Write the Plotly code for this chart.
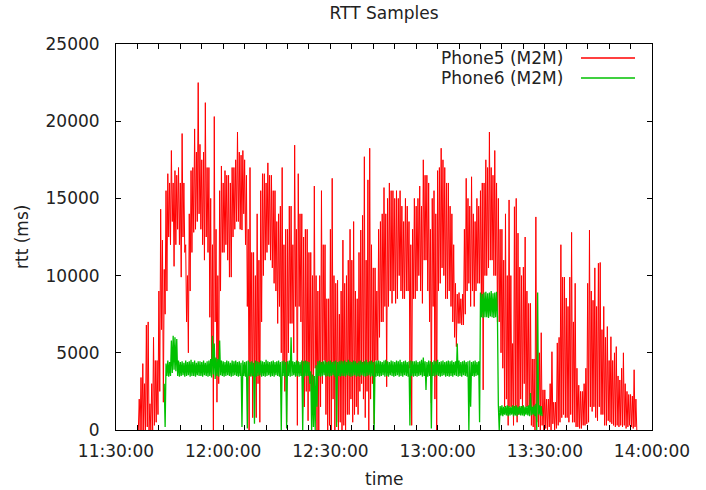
import pandas as pd
import plotly.graph_objects as go

# ---- data (ms) ----
# Phone5: one 30 s bin every step from 11:36:00; upper and lower edge of the trace in each bin
phone5_start = "2013-06-01 11:36:00"
phone5_hi = [
    0, 2000, 3400, 4300, 3000, 6800, 7000, 1700, 3000, 6000, 4500, 4500, 9000, 14300, 12300, 10400, 15500, 16600, 16000, 18100,
    16000, 16800, 16500, 17000, 16000, 19200, 16000, 12000, 10000, 14000, 16800, 17000, 19500, 18000, 22500, 18500, 17500, 18000, 21200, 17000,
    17000, 15000, 12000, 20300, 13000, 10000, 15500, 17100, 16000, 16800, 16500, 16500, 16000, 17000, 17000, 17500, 19300, 18000, 17800, 18100,
    17500, 16500, 13000, 17000, 11500, 11500, 10000, 14000, 11000, 15500, 16600, 16600, 16000, 17300, 16500, 16500, 15500, 15500, 13500, 14000,
    14500, 17000, 12000, 13000, 13000, 14500, 14500, 12000, 18450, 13000, 16600, 14000, 14000, 12500, 13000, 13000, 11500, 11500, 10000, 15800,
    10000, 9000, 10000, 15500, 12000, 12000, 8500, 8500, 13000, 16300, 10000, 9500, 9700, 7500, 9000, 12300, 9500, 10000, 11000, 13000,
    11000, 13500, 9000, 8500, 11500, 12950, 13900, 17700, 11000, 16200, 18250, 12000, 10500, 10500, 9000, 13000, 13500, 14000, 15700, 14000,
    15000, 16000, 15500, 15500, 15000, 15500, 15000, 15500, 14500, 13500, 15000, 14500, 13500, 12000, 13000, 15000, 14500, 15000, 15800, 14500,
    17500, 16500, 16500, 16000, 13000, 15000, 15500, 14000, 16800, 17000, 18250, 17500, 17000, 16000, 16000, 14500, 14000, 12000, 9500, 8800,
    8900, 8500, 8800, 13000, 16300, 15000, 14500, 16400, 14000, 13500, 15000, 14500, 15500, 16000, 16000, 17500, 17000, 19300, 17000, 16500,
    18100, 16000, 15000, 13000, 13000, 11000, 14000, 10000, 14900, 10000, 5600, 14460, 15000, 12750, 10550, 10000, 10550, 12500, 9000, 8200,
    8200, 4600, 4600, 13800, 5000, 5000, 6300, 2600, 2600, 2000, 2000, 3000, 5070, 1800, 1800, 5640, 6000, 12000, 9900, 9900,
    8550, 8000, 9900, 12800, 7000, 9500, 4000, 2900, 2500, 2500, 3000, 4000, 9500, 12950, 9000, 8400, 10500, 8000, 10800, 10850,
    6500, 8000, 6000, 6700, 4500, 6040, 4500, 5000, 5400, 3500, 3240, 4000, 5000, 3000, 2500, 2300, 2300, 2200, 3900, 2000,
]
phone5_lo = [
    0, 0, 0, 0, 0, 200, 0, 0, 0, 300, 500, 1000, 2500, 6500, 1800, 7500, 9000, 12500, 12000, 13500,
    10600, 12000, 13000, 12000, 9900, 12500, 11500, 7000, 5000, 9000, 11500, 12800, 13000, 13500, 14000, 13000, 12000, 11000, 12500, 11500,
    7300, 4000, 0, 7000, 1800, 3000, 9000, 11500, 11500, 12000, 11000, 9900, 9900, 12500, 13000, 13500, 13500, 13000, 12950, 14000,
    12000, 8000, 0, 3500, 800, 3000, 800, 3000, 500, 7000, 10000, 11000, 11500, 12000, 11000, 10500, 9500, 9000, 6900, 8000,
    5000, 4000, 2500, 500, 5000, 6900, 6900, 5000, 8000, 300, 8000, 7000, 1500, 1500, 2500, 600, 2500, 2500, 1000, 4000,
    0, 0, 1500, 3000, 4500, 1000, 0, 300, 0, 2000, 0, 500, 0, 500, 0, 300, 0, 1000, 1000, 2000,
    500, 1000, 1500, 1000, 2500, 3000, 2000, 800, 2500, 0, 2000, 3000, 400, 4500, 4500, 6000, 7000, 7000, 8000, 2800,
    8000, 9000, 8200, 9000, 8200, 8500, 10000, 9000, 8500, 8500, 9000, 9000, 4000, 300, 8500, 8500, 9000, 10000, 9000, 8200,
    11000, 11000, 9000, 7000, 1750, 8000, 2000, 0, 9000, 9500, 10500, 10000, 8500, 8500, 9000, 8000, 7000, 6000, 5400, 6900,
    6900, 6800, 6800, 7500, 9000, 9500, 8000, 9000, 8000, 9000, 9500, 9500, 8000, 2600, 10000, 10000, 10500, 11000, 11000, 10000,
    10000, 7000, 7000, 5000, 4000, 1500, 2000, 300, 1500, 1500, 300, 1000, 500, 1000, 2000, 1000, 3000, 1500, 1500, 1000,
    300, 200, 0, 500, 200, 0, 300, 0, 100, 0, 200, 0, 400, 0, 100, 300, 500, 800, 1000, 800,
    800, 500, 1000, 500, 500, 200, 200, 100, 100, 300, 300, 400, 500, 1500, 1200, 1500, 800, 600, 1500, 1000,
    1000, 300, 300, 600, 500, 400, 300, 200, 300, 200, 300, 200, 300, 100, 200, 300, 200, 100, 200, 0,
]

# Phone6: 30 s bins from 11:43:30, upper and lower edge of the band
phone6_start = "2013-06-01 11:43:30"
phone6_hi = [
    3000, 4300, 4500, 4400, 5800, 6100, 6000, 5900, 4500, 4400, 4450, 4350, 4500, 4400, 4450, 4550, 4400, 4500, 4350, 4450,
    4450, 4400, 4500, 4350, 4450, 4500, 4600, 6100, 5600, 4700, 4600, 5800, 4500, 4450, 4400, 4500, 4450, 4350, 4500, 4450,
    4500, 4400, 4450, 4350, 4500, 4400, 4450, 4500, 4400, 4450, 4350, 4500, 4450, 4400, 4500, 4450, 4400, 4550, 4450, 4400,
    4450, 4500, 4400, 4450, 4500, 4400, 4450, 4500, 4400, 4450, 4500, 6000, 4450, 4400, 4500, 4450, 4400, 4500, 4450, 4500,
    4450, 4400, 3800, 3600, 3500, 4200, 4450, 4500, 4400, 4450, 4500, 4400, 4450, 4500, 4400, 4450, 4500, 4400, 4450, 4500,
    4450, 4500, 4400, 4550, 4450, 4400, 4500, 4450, 4350, 4450, 4500, 4400, 4450, 4550, 4400, 4450, 4500, 4400, 4450, 4500,
    4500, 4450, 4400, 4500, 4550, 4450, 4400, 4500, 4450, 4400, 4500, 4450, 4550, 4400, 4450, 4500, 4400, 4450, 4500, 4450,
    4450, 4500, 4400, 4450, 4550, 4700, 4450, 4400, 4500, 4450, 4400, 4500, 4450, 4550, 4400, 4450, 4500, 4400, 4450, 4500,
    4450, 4500, 4400, 4450, 5600, 4500, 4400, 4450, 4500, 4400, 4450, 4500, 4400, 4450, 4500, 4400, 4450, 8900, 8800, 8900,
    8950, 8850, 8900, 9000, 8850, 8900, 8950, 1600, 1550, 1600, 1500, 1550, 1600, 1550, 1500, 1600, 1550, 1600, 1500, 1550,
    1550, 1600, 1500, 1550, 1600, 2400, 1500, 1600, 1700, 8900, 1600, 1550,
]
phone6_lo = [
    200, 3500, 3450, 3500, 3700, 3900, 3800, 3500, 3450, 3500, 3550, 3450, 3500, 3550, 3450, 3500, 3500, 3450, 3550, 3500,
    3500, 3450, 3550, 3500, 3450, 3500, 3400, 3600, 3300, 3500, 3450, 3550, 3500, 3450, 3500, 3550, 3500, 3450, 3500, 3550,
    3500, 3450, 3500, 200, 3500, 3450, 100, 3500, 3450, 3500, 400, 3450, 3500, 3550, 3450, 3500, 3450, 3500, 3550, 3450,
    3500, 3450, 3550, 3500, 3450, 0, 3500, 3450, 100, 3500, 3450, 3500, 3550, 3450, 3500, 3450, 3500, 0, 3450, 3500,
    3500, 3000, 0, 200, 0, 1500, 3500, 3450, 3500, 3550, 3450, 3500, 3450, 3500, 3550, 3450, 200, 3500, 3450, 3500,
    3500, 3450, 3550, 3500, 3450, 3500, 3550, 3450, 3500, 3450, 3550, 3500, 3450, 3500, 3550, 3450, 3500, 0, 3450, 3500,
    3450, 3500, 3550, 3450, 3500, 3450, 3550, 3500, 3450, 3500, 3550, 3450, 3500, 3450, 3550, 3500, 3450, 300, 3500, 3450,
    3500, 3450, 3500, 3550, 3450, 3500, 2600, 3450, 3500, 100, 3500, 3450, 3550, 3500, 3450, 3500, 3550, 3450, 3500, 3450,
    3500, 3450, 3550, 3500, 3450, 3500, 3450, 3550, 3500, 3450, 0, 1500, 3500, 3450, 3500, 3550, 500, 7300, 7250, 7300,
    7300, 7250, 7350, 7300, 7250, 7300, 7350, 0, 950, 900, 1000, 950, 900, 950, 1000, 900, 950, 900, 1000, 950,
    950, 900, 1000, 950, 900, 950, 1000, 900, 0, 1000, 950, 900,
]

series_names = ["Phone5 (M2M)", "Phone6 (M2M)"]
series_colors = ["#ff0000", "#00c000"]
x_range = ["2013-06-01 11:30:00", "2013-06-01 14:00:00"]


def zigzag(start, hi, lo):
    """Each 30 s bin is drawn as its upper value, then its lower value 15 s later."""
    ts = pd.date_range(start, periods=len(hi), freq="30s")
    xs, ys = [], []
    for t, h, l in zip(ts, hi, lo):
        xs.append(t.strftime("%Y-%m-%d %H:%M:%S"))
        ys.append(h)
        xs.append((t + pd.Timedelta(seconds=15)).strftime("%Y-%m-%d %H:%M:%S"))
        ys.append(l)
    return xs, ys


x5, y5 = zigzag(phone5_start, phone5_hi, phone5_lo)
x6, y6 = zigzag(phone6_start, phone6_hi, phone6_lo)

FONT = "DejaVu Sans"
TXT = "#222222"

fig = go.Figure()
fig.add_trace(go.Scatter(x=x5, y=y5, mode="lines", name=series_names[0],
                         line=dict(color=series_colors[0], width=1)))
fig.add_trace(go.Scatter(x=x6, y=y6, mode="lines", name=series_names[1],
                         line=dict(color=series_colors[1], width=1.3)))

axis_common = dict(showline=True, linecolor="black", linewidth=1, mirror="allticks",
                   ticks="inside", ticklen=5, tickcolor="black", showgrid=False,
                   zeroline=False, tickfont=dict(family=FONT, size=17, color=TXT))

fig.update_layout(
    width=706, height=490,
    margin=dict(l=116, r=54, t=44, b=60),
    plot_bgcolor="white", paper_bgcolor="white",
    showlegend=False,
    title=dict(text="RTT Samples", x=0.5, xref="paper", y=1 - 13 / 490, yanchor="middle",
               font=dict(family=FONT, size=17, color=TXT)),
    xaxis=dict(type="date", range=x_range, dtick=1800000, tickformat="%H:%M:%S",
               minor=dict(dtick=360000, ticks="inside", ticklen=5, tickcolor="black"),
               ticklabelstandoff=6, **axis_common),
    yaxis=dict(range=[0, 25000], dtick=5000, tickformat="d", ticklabelstandoff=12,
               **axis_common),
)

# axis titles
fig.add_annotation(text="time", x=0.5, y=(430 - 479) / 386, xref="paper", yref="paper",
                   showarrow=False, yanchor="middle",
                   font=dict(family=FONT, size=17, color=TXT))
fig.add_annotation(text="rtt (ms)", x=(22 - 116) / 536, y=0.5, xref="paper", yref="paper",
                   showarrow=False, textangle=-90, xanchor="center",
                   font=dict(family=FONT, size=17, color=TXT))

# gnuplot-style key (text left, sample line right)
key_text_x = (565 - 116) / 536
key_line_x0 = (581 - 116) / 536
key_line_x1 = (635 - 116) / 536
for i, (nm, col) in enumerate(zip(series_names, series_colors)):
    yk = (430 - (58 + 20 * i)) / 386
    fig.add_annotation(text=nm, x=key_text_x, y=yk, xref="paper", yref="paper",
                       showarrow=False, xanchor="right", yanchor="middle",
                       font=dict(family=FONT, size=17, color=TXT))
    fig.add_shape(type="line", xref="paper", yref="paper", x0=key_line_x0, x1=key_line_x1,
                  y0=yk, y1=yk, line=dict(color=col, width=1.3))

fig.write_html("out.html")
